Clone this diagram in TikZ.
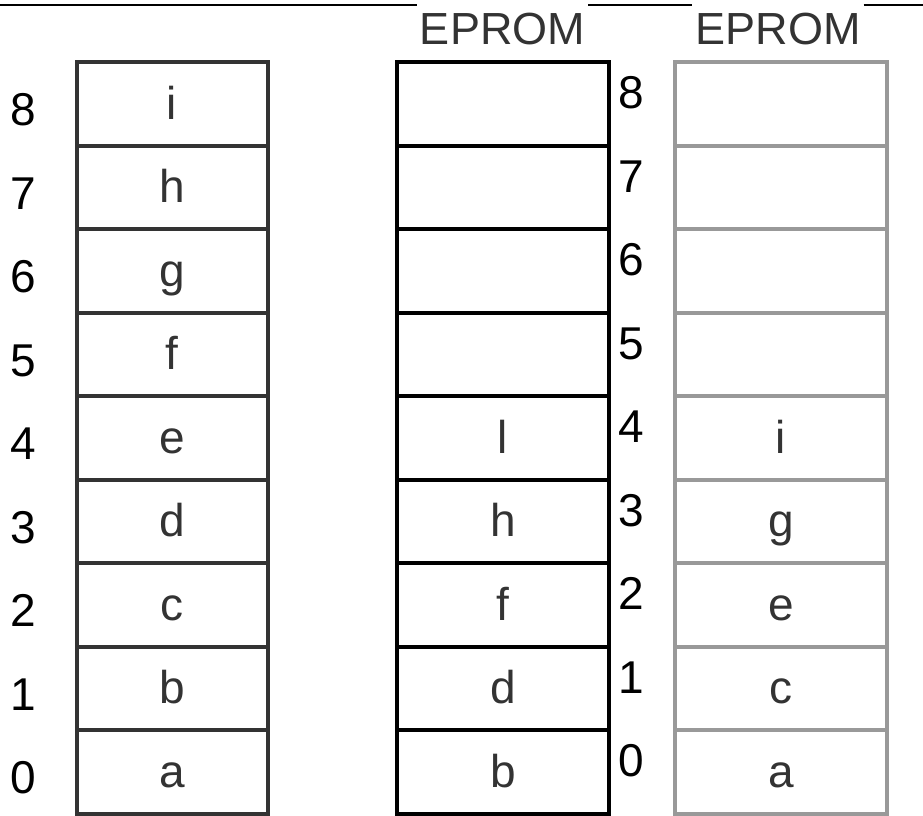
\documentclass[tikz,border=0pt]{standalone}
\usepackage{fontspec}
\setmainfont{Liberation Sans}
\definecolor{lgray}{HTML}{333333}
\definecolor{rgray}{HTML}{999999}
\begin{document}
\begin{tikzpicture}[x=1pt,y=1pt,
  txt/.style={font=\fontsize{46}{52}\selectfont},
  cellL/.style={draw=lgray,line width=4pt,minimum width=191pt,minimum height=83.5pt,inner sep=0pt,txt,text=lgray,text height=31pt,text depth=0pt},
  cellM/.style={draw=black,line width=4pt,minimum width=212pt,minimum height=83.5pt,inner sep=0pt,txt,text=lgray,text height=31pt,text depth=0pt},
  cellR/.style={draw=rgray,line width=4pt,minimum width=212pt,minimum height=83.5pt,inner sep=0pt,txt,text=lgray,text height=31pt,text depth=0pt},
  num/.style={txt,text=black,anchor=base,inner sep=0pt},
  head/.style={font=\fontsize{45}{52}\selectfont,text=lgray,fill=white,anchor=base,inner xsep=3pt,inner ysep=6pt}]
\useasboundingbox (0,0) rectangle (923,-815);
% top rule
\coordinate (tl) at (0,-5);
\coordinate (tr) at (923,-5);
\node[head] (e1) at (502.5,-44) {EPROM};
\node[head] (e2) at (778,-44) {EPROM};
\draw[line width=1.5pt] (tl) -- (e1.west|-tl);
\draw[line width=1.5pt] (e1.east|-tl) -- (e2.west|-tl);
\draw[line width=1.5pt] (e2.east|-tl) -- (tr);
% columns
\foreach \i/\l/\m/\r in {8/i//,7/h//,6/g//,5/f//,4/e/l/i,3/d/h/g,2/c/f/e,1/b/d/c,0/a/b/a}{
  \pgfmathsetmacro{\cy}{62+83.5*(8-\i)+41.75}
  \node[cellL] (L\i) at (172,-\cy) {\l};
  \node[cellM] (M\i) at (503,-\cy) {\m};
  \node[cellR] (R\i) at (781,-\cy) {\r};
  \node[num] (ln\i) at (23.5,-\cy-22) {\i};
  \node[num] (mn\i) at (631,-\cy-5) {\i};
}
\end{tikzpicture}
\end{document}
